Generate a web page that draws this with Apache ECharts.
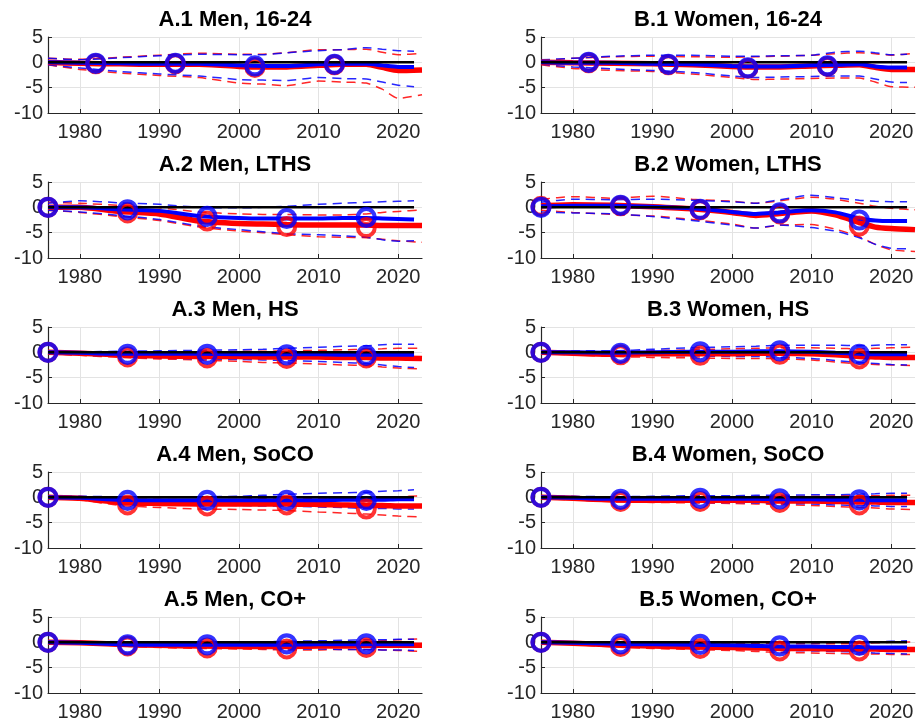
<!DOCTYPE html>
<html>
<head>
<meta charset="utf-8">
<script src="https://cdn.jsdelivr.net/npm/echarts@6/dist/echarts.min.js"></script>
<style>
  html, body { margin: 0; padding: 0; background: #fff; }
  #chart { width: 918px; height: 725px; }
</style>
</head>
<body>
<div id="chart"></div>
<script>
// Years at which each path is sampled (red paths run to 2023, blue ones to 2022)
const redYears  = [1976, 1980, 1985, 1990, 1995, 2000, 2003, 2006, 2010, 2013, 2016, 2018, 2020, 2023];
const blueYears = [1976, 1980, 1985, 1990, 1995, 2000, 2003, 2006, 2010, 2013, 2016, 2018, 2020, 2022];
const zeroYears = [1976, 2022];
const zeroValues = [0, 0];
const dotYearsYouth = [1982, 1992, 2002, 2012];
const dotYears = [1976, 1986, 1996, 2006, 2016];
const xTicks = [1980, 1990, 2000, 2010, 2020];
const yTicks = [-10, -5, 0, 5];

const panelTitles = [
  'A.1 Men, 16-24', 'B.1 Women, 16-24',
  'A.2 Men, LTHS', 'B.2 Women, LTHS',
  'A.3 Men, HS', 'B.3 Women, HS',
  'A.4 Men, SoCO', 'B.4 Women, SoCO',
  'A.5 Men, CO+', 'B.5 Women, CO+'
];

// A.1 Men, 16-24
const A1_red    = [0, -0.2, -0.3, -0.4, -0.4, -0.8, -0.9, -0.9, -0.6, -0.4, -0.4, -1.0, -1.6, -1.5];
const A1_redHi  = [0.8, 0.6, 1.0, 1.4, 1.8, 1.6, 1.6, 1.9, 2.5, 2.5, 2.6, 2.0, 1.5, 1.8];
const A1_redLo  = [-0.5, -1.4, -2.1, -2.6, -3.0, -4.1, -4.3, -4.6, -3.7, -3.9, -4.1, -5.3, -7.1, -6.4];
const A1_blue   = [0, -0.1, -0.2, -0.3, -0.3, -0.6, -0.7, -0.7, -0.4, -0.3, -0.3, -0.6, -0.9, -0.9];
const A1_blueHi = [0.8, 0.5, 0.9, 1.3, 1.6, 1.5, 1.5, 1.9, 2.3, 2.5, 2.9, 2.6, 2.3, 2.2];
const A1_blueLo = [-0.5, -1.1, -1.8, -2.3, -2.7, -3.4, -3.5, -3.6, -3.0, -3.2, -3.3, -3.9, -4.5, -4.8];
const A1_redDots  = [-0.3, -0.3, -1.0, -0.5];
const A1_blueDots = [-0.2, -0.2, -0.7, -0.4];

// B.1 Women, 16-24
const B1_red    = [0, -0.1, -0.2, -0.3, -0.5, -0.8, -0.9, -0.9, -0.7, -0.6, -0.5, -1.0, -1.4, -1.4];
const B1_redHi  = [0.3, 0.8, 1.1, 1.2, 1.1, 1.0, 1.1, 1.2, 1.4, 1.7, 1.9, 1.7, 1.4, 1.8];
const B1_redLo  = [-0.5, -1.2, -1.6, -1.8, -2.3, -3.0, -3.4, -3.3, -3.2, -3.1, -3.1, -3.9, -4.8, -4.9];
const B1_blue   = [0, -0.1, -0.1, -0.3, -0.4, -0.7, -0.8, -0.8, -0.6, -0.5, -0.4, -0.8, -1.0, -1.0];
const B1_blueHi = [0.5, 0.8, 1.2, 1.4, 1.4, 1.2, 1.2, 1.3, 1.4, 2.0, 2.2, 1.9, 1.5, 1.6];
const B1_blueLo = [-0.4, -0.9, -1.3, -1.6, -2.0, -2.7, -3.0, -2.9, -2.8, -2.7, -2.7, -3.3, -3.9, -4.0];
const B1_redDots  = [-0.1, -0.5, -1.2, -0.8];
const B1_blueDots = [0, -0.4, -1.1, -0.7];

// A.2 Men, LTHS
const A2_red    = [0, 0, -0.8, -1.3, -2.7, -3.2, -3.3, -3.4, -3.5, -3.5, -3.5, -3.6, -3.6, -3.6];
const A2_redHi  = [1.0, 0.8, 0.4, -0.1, -0.9, -1.3, -1.4, -1.4, -1.5, -1.5, -1.3, -1.0, -0.8, -0.5];
const A2_redLo  = [-0.6, -1.0, -1.8, -2.6, -3.9, -4.7, -5.0, -5.4, -5.8, -5.9, -6.0, -6.3, -6.6, -6.9];
const A2_blue   = [0, 0, -0.4, -0.7, -1.7, -2.1, -2.2, -2.2, -2.2, -2.1, -2.1, -2.2, -2.3, -2.4];
const A2_blueHi = [0.8, 1.3, 0.9, 0.6, 0.0, -0.1, 0.0, 0.2, 0.6, 0.8, 1.0, 1.1, 1.2, 1.3];
const A2_blueLo = [-0.6, -0.9, -1.6, -2.4, -3.7, -4.4, -4.8, -5.2, -5.4, -5.6, -5.9, -6.4, -6.7, -6.6];
const A2_redDots  = [0, -1.1, -2.7, -3.8, -4.0];
const A2_blueDots = [0, -0.5, -1.8, -2.2, -2.0];

// B.2 Women, LTHS
const B2_red    = [0.3, 0.5, 0.4, 0.1, -0.3, -1.0, -1.6, -1.2, -0.7, -1.5, -3.0, -3.9, -4.2, -4.4];
const B2_redHi  = [1.6, 2.1, 1.8, 2.2, 1.6, 1.2, 0.8, 1.3, 2.0, 1.6, 0.8, 0.2, -0.2, -0.5];
const B2_redLo  = [-0.6, -1.0, -1.4, -1.7, -2.4, -3.3, -4.1, -3.5, -3.4, -4.3, -5.8, -7.3, -8.4, -8.7];
const B2_blue   = [0.2, 0.3, 0.3, 0.1, -0.2, -0.9, -1.3, -1.0, -0.6, -1.0, -2.2, -2.6, -2.7, -2.7];
const B2_blueHi = [1.0, 1.6, 1.5, 1.6, 1.4, 1.1, 0.8, 1.5, 2.4, 1.9, 1.4, 1.2, 1.1, 1.1];
const B2_blueLo = [-0.9, -1.1, -1.3, -1.8, -2.6, -3.5, -4.1, -3.5, -4.0, -4.7, -6.0, -7.3, -8.1, -8.2];
const B2_redDots  = [0.2, 0.3, -0.5, -1.3, -3.7];
const B2_blueDots = [0, 0.4, -0.4, -1.1, -2.5];

// A.3 Men, HS
const A3_red    = [0, -0.2, -0.5, -0.7, -0.8, -0.8, -0.9, -0.9, -0.9, -1.0, -1.0, -1.1, -1.1, -1.2];
const A3_redHi  = [0.2, 0.1, 0.0, 0.0, 0.1, 0.2, 0.2, 0.3, 0.4, 0.5, 0.6, 0.7, 0.8, 0.8];
const A3_redLo  = [-0.2, -0.6, -1.0, -1.3, -1.5, -1.8, -2.0, -2.1, -2.3, -2.5, -2.6, -2.9, -3.1, -3.3];
const A3_blue   = [0, -0.1, -0.3, -0.3, -0.3, -0.4, -0.4, -0.4, -0.4, -0.5, -0.5, -0.5, -0.5, -0.5];
const A3_blueHi = [0.2, 0.1, 0.2, 0.3, 0.4, 0.5, 0.6, 0.8, 1.0, 1.2, 1.3, 1.5, 1.6, 1.6];
const A3_blueLo = [-0.2, -0.5, -0.8, -1.1, -1.3, -1.4, -1.5, -1.6, -1.8, -2.0, -2.2, -2.5, -2.8, -3.0];
const A3_redDots  = [0, -0.9, -1.1, -1.2, -1.1];
const A3_blueDots = [0, -0.4, -0.4, -0.5, -0.6];

// B.3 Women, HS
const B3_red    = [0, -0.2, -0.4, -0.3, -0.3, -0.3, -0.2, -0.2, -0.3, -0.5, -0.8, -0.9, -1.0, -1.0];
const B3_redHi  = [0.3, 0.2, 0.1, 0.3, 0.5, 0.7, 0.8, 0.9, 0.9, 0.8, 0.7, 0.8, 0.9, 1.0];
const B3_redLo  = [-0.3, -0.5, -0.8, -1.0, -1.1, -1.2, -1.2, -1.3, -1.5, -1.9, -2.3, -2.4, -2.5, -2.6];
const B3_blue   = [0, 0, -0.1, 0, 0.1, 0.1, 0.2, 0.2, 0.1, -0.1, -0.3, -0.4, -0.4, -0.4];
const B3_blueHi = [0.3, 0.3, 0.3, 0.6, 0.9, 1.1, 1.2, 1.4, 1.4, 1.4, 1.3, 1.4, 1.5, 1.5];
const B3_blueLo = [-0.3, -0.4, -0.6, -0.6, -0.7, -0.8, -0.8, -1.0, -1.2, -1.6, -2.0, -2.2, -2.4, -2.5];
const B3_redDots  = [0, -0.5, -0.6, -0.4, -1.3];
const B3_blueDots = [0, -0.2, 0.1, 0.3, -0.4];

// A.4 Men, SoCO
const A4_red    = [0, -0.2, -1.0, -1.2, -1.3, -1.3, -1.3, -1.3, -1.4, -1.5, -1.6, -1.6, -1.7, -1.7];
const A4_redHi  = [0.2, 0.1, -0.3, -0.4, -0.5, -0.4, -0.2, -0.1, -0.2, -0.2, -0.2, -0.1, 0.1, 0.3];
const A4_redLo  = [-0.2, -0.5, -1.6, -2.0, -2.3, -2.4, -2.5, -2.6, -2.9, -3.1, -3.3, -3.5, -3.7, -3.9];
const A4_blue   = [0, -0.1, -0.5, -0.6, -0.6, -0.6, -0.6, -0.6, -0.6, -0.5, -0.5, -0.5, -0.4, -0.4];
const A4_blueHi = [0.2, 0.2, 0.1, 0.0, 0.1, 0.2, 0.4, 0.6, 0.8, 0.9, 1.0, 1.2, 1.3, 1.5];
const A4_blueLo = [-0.2, -0.4, -1.1, -1.3, -1.5, -1.6, -1.7, -1.7, -1.9, -2.0, -2.2, -2.2, -2.3, -2.3];
const A4_redDots  = [0, -1.5, -1.7, -1.5, -2.3];
const A4_blueDots = [0, -0.6, -0.6, -0.6, -0.6];

// B.4 Women, SoCO
const B4_red    = [0, -0.2, -0.5, -0.6, -0.6, -0.6, -0.6, -0.7, -0.7, -0.8, -0.9, -0.9, -1.0, -1.0];
const B4_redHi  = [0.2, 0.1, 0.0, 0.0, 0.1, 0.1, 0.2, 0.2, 0.2, 0.3, 0.3, 0.3, 0.4, 0.4];
const B4_redLo  = [-0.2, -0.5, -0.9, -1.0, -1.1, -1.2, -1.3, -1.4, -1.6, -1.8, -2.0, -2.1, -2.3, -2.4];
const B4_blue   = [0, -0.1, -0.3, -0.3, -0.3, -0.3, -0.3, -0.4, -0.4, -0.5, -0.5, -0.6, -0.6, -0.6];
const B4_blueHi = [0.2, 0.2, 0.1, 0.2, 0.3, 0.3, 0.4, 0.4, 0.5, 0.5, 0.6, 0.7, 0.8, 0.8];
const B4_blueLo = [-0.2, -0.4, -0.7, -0.9, -1.0, -1.0, -1.1, -1.2, -1.3, -1.5, -1.6, -1.7, -1.8, -1.8];
const B4_redDots  = [0, -0.8, -0.8, -1.0, -1.5];
const B4_blueDots = [0, -0.4, -0.2, -0.3, -0.5];

// A.5 Men, CO+
const A5_red    = [0, -0.1, -0.4, -0.6, -0.7, -0.8, -0.8, -0.8, -0.7, -0.7, -0.6, -0.6, -0.6, -0.6];
const A5_redHi  = [0.1, 0.0, -0.2, -0.3, -0.3, -0.3, -0.2, -0.2, -0.1, 0.0, 0.1, 0.3, 0.5, 0.7];
const A5_redLo  = [-0.1, -0.3, -0.7, -1.0, -1.2, -1.3, -1.4, -1.5, -1.5, -1.4, -1.4, -1.5, -1.6, -1.8];
const A5_blue   = [0, -0.1, -0.4, -0.5, -0.5, -0.5, -0.5, -0.5, -0.4, -0.4, -0.4, -0.4, -0.4, -0.4];
const A5_blueHi = [0.1, 0.1, 0.0, 0.0, 0.0, 0.1, 0.1, 0.2, 0.3, 0.4, 0.5, 0.5, 0.6, 0.6];
const A5_blueLo = [-0.1, -0.3, -0.6, -0.9, -1.0, -1.1, -1.2, -1.3, -1.3, -1.4, -1.4, -1.5, -1.5, -1.6];
const A5_redDots  = [0, -0.7, -1.1, -1.3, -1.0];
const A5_blueDots = [0, -0.5, -0.5, -0.3, -0.3];

// B.5 Women, CO+
const B5_red    = [0, -0.2, -0.5, -0.7, -0.9, -1.0, -1.1, -1.2, -1.2, -1.3, -1.3, -1.3, -1.4, -1.4];
const B5_redHi  = [0.1, 0.0, -0.1, -0.2, -0.2, -0.3, -0.3, -0.3, -0.3, -0.3, -0.2, -0.1, 0.0, 0.1];
const B5_redLo  = [-0.1, -0.4, -0.9, -1.2, -1.4, -1.6, -1.8, -2.0, -2.1, -2.2, -2.3, -2.3, -2.4, -2.4];
const B5_blue   = [0, -0.1, -0.3, -0.4, -0.5, -0.6, -0.7, -0.8, -0.8, -0.9, -0.9, -1.0, -1.0, -1.0];
const B5_blueHi = [0.1, 0.1, 0.1, 0.0, 0.0, 0.0, -0.1, -0.1, -0.1, 0.0, 0.0, 0.1, 0.2, 0.3];
const B5_blueLo = [-0.1, -0.3, -0.7, -0.9, -1.1, -1.3, -1.4, -1.6, -1.7, -1.8, -1.9, -2.1, -2.2, -2.3];
const B5_redDots  = [0, -0.8, -1.2, -1.7, -1.7];
const B5_blueDots = [0, -0.3, -0.4, -0.7, -0.6];

const panels = [
  { red: A1_red, redHi: A1_redHi, redLo: A1_redLo, blue: A1_blue, blueHi: A1_blueHi, blueLo: A1_blueLo, dotYears: dotYearsYouth, redDots: A1_redDots, blueDots: A1_blueDots },
  { red: B1_red, redHi: B1_redHi, redLo: B1_redLo, blue: B1_blue, blueHi: B1_blueHi, blueLo: B1_blueLo, dotYears: dotYearsYouth, redDots: B1_redDots, blueDots: B1_blueDots },
  { red: A2_red, redHi: A2_redHi, redLo: A2_redLo, blue: A2_blue, blueHi: A2_blueHi, blueLo: A2_blueLo, dotYears: dotYears, redDots: A2_redDots, blueDots: A2_blueDots },
  { red: B2_red, redHi: B2_redHi, redLo: B2_redLo, blue: B2_blue, blueHi: B2_blueHi, blueLo: B2_blueLo, dotYears: dotYears, redDots: B2_redDots, blueDots: B2_blueDots },
  { red: A3_red, redHi: A3_redHi, redLo: A3_redLo, blue: A3_blue, blueHi: A3_blueHi, blueLo: A3_blueLo, dotYears: dotYears, redDots: A3_redDots, blueDots: A3_blueDots },
  { red: B3_red, redHi: B3_redHi, redLo: B3_redLo, blue: B3_blue, blueHi: B3_blueHi, blueLo: B3_blueLo, dotYears: dotYears, redDots: B3_redDots, blueDots: B3_blueDots },
  { red: A4_red, redHi: A4_redHi, redLo: A4_redLo, blue: A4_blue, blueHi: A4_blueHi, blueLo: A4_blueLo, dotYears: dotYears, redDots: A4_redDots, blueDots: A4_blueDots },
  { red: B4_red, redHi: B4_redHi, redLo: B4_redLo, blue: B4_blue, blueHi: B4_blueHi, blueLo: B4_blueLo, dotYears: dotYears, redDots: B4_redDots, blueDots: B4_blueDots },
  { red: A5_red, redHi: A5_redHi, redLo: A5_redLo, blue: A5_blue, blueHi: A5_blueHi, blueLo: A5_blueLo, dotYears: dotYears, redDots: A5_redDots, blueDots: A5_blueDots },
  { red: B5_red, redHi: B5_redHi, redLo: B5_redLo, blue: B5_blue, blueHi: B5_blueHi, blueLo: B5_blueLo, dotYears: dotYears, redDots: B5_redDots, blueDots: B5_blueDots }
];

const RED = '#ff0000';
const BLUE = '#0000ff';
const INK = '#262626';
const FONT = '"Liberation Sans", Arial, Helvetica, sans-serif';

const colLeft = [48, 541];
const rowTop = [37, 182, 327, 472, 617];
const plotW = 374;
const plotH = 76;

const pairs = (xs, ys) => ys.map((y, i) => [xs[i], y]);

const grids = [], xAxes = [], yAxes = [], titles = [], series = [];

panels.forEach((p, i) => {
  const col = i % 2, row = Math.floor(i / 2);
  const left = colLeft[col], top = rowTop[row];
  grids.push({ left: left, top: top, width: plotW, height: plotH, containLabel: false });
  titles.push({
    text: panelTitles[i],
    left: left + plotW / 2,
    top: top - 28,
    textAlign: 'center',
    padding: 0,
    textStyle: { fontFamily: FONT, fontWeight: 'bold', fontSize: 22, color: '#000' }
  });
  xAxes.push({
    gridIndex: i, type: 'value', min: 1976, max: 2023,
    axisLine: { show: true, onZero: false, lineStyle: { color: INK, width: 1.2 } },
    axisTick: { show: true, inside: true, length: 4, customValues: xTicks, lineStyle: { color: INK } },
    axisLabel: { customValues: xTicks, formatter: (v) => String(v), color: INK, fontFamily: FONT, fontSize: 20, margin: 9 },
    splitLine: { show: true, lineStyle: { color: '#e3e3e3', width: 1 } }
  });
  yAxes.push({
    gridIndex: i, type: 'value', min: yTicks[0], max: yTicks[yTicks.length - 1], interval: 5,
    axisLine: { show: true, lineStyle: { color: INK, width: 1.2 } },
    axisTick: { show: true, inside: true, length: 4, lineStyle: { color: INK } },
    axisLabel: { color: INK, fontFamily: FONT, fontSize: 20, margin: 5 },
    splitLine: { show: true, lineStyle: { color: '#e3e3e3', width: 1 } }
  });

  const dashed = (data, color) => ({
    type: 'line', xAxisIndex: i, yAxisIndex: i, data: data, smooth: 0.2,
    symbol: 'none', silent: true, z: 2,
    lineStyle: { color: color, width: 1.5, type: [9, 6], opacity: 0.85 }
  });
  series.push(dashed(pairs(redYears, p.redHi), RED));
  series.push(dashed(pairs(redYears, p.redLo), RED));
  series.push(dashed(pairs(blueYears, p.blueHi), BLUE));
  series.push(dashed(pairs(blueYears, p.blueLo), BLUE));
  series.push({
    type: 'line', xAxisIndex: i, yAxisIndex: i, data: pairs(redYears, p.red), smooth: 0.2,
    symbol: 'none', silent: true, z: 3,
    lineStyle: { color: RED, width: 5.5 }
  });
  series.push({
    type: 'line', xAxisIndex: i, yAxisIndex: i, data: pairs(blueYears, p.blue), smooth: 0.2,
    symbol: 'none', silent: true, z: 4,
    lineStyle: { color: BLUE, width: 4 }
  });
  series.push({
    type: 'line', xAxisIndex: i, yAxisIndex: i, data: pairs(zeroYears, zeroValues),
    symbol: 'none', silent: true, z: 5,
    lineStyle: { color: '#000', width: 2.5 }
  });
  series.push({
    type: 'scatter', xAxisIndex: i, yAxisIndex: i, data: pairs(p.dotYears, p.redDots),
    symbol: 'circle', symbolSize: 17, silent: true, clip: false, z: 6,
    itemStyle: { color: 'rgba(0,0,0,0)', borderColor: RED, borderWidth: 4 }
  });
  series.push({
    type: 'scatter', xAxisIndex: i, yAxisIndex: i, data: pairs(p.dotYears, p.blueDots),
    symbol: 'circle', symbolSize: 17, silent: true, clip: false, z: 7,
    itemStyle: { color: 'rgba(0,0,0,0)', borderColor: BLUE, borderWidth: 4.2 }
  });
});

const chart = echarts.init(document.getElementById('chart'), null, { renderer: 'canvas' });
chart.setOption({
  animation: false,
  backgroundColor: '#fff',
  title: titles,
  grid: grids,
  xAxis: xAxes,
  yAxis: yAxes,
  series: series
});
</script>
</body>
</html>
